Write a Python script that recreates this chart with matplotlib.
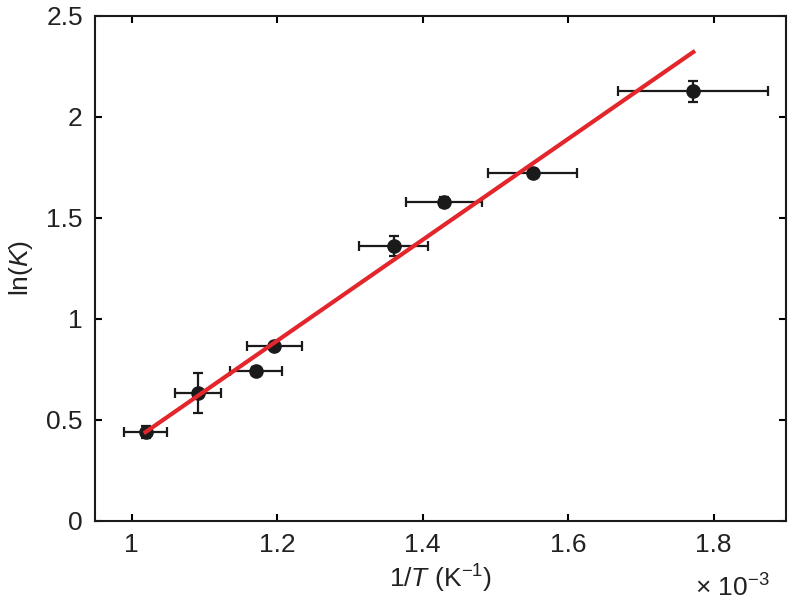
import numpy as np
import matplotlib.pyplot as plt

plt.rcParams['font.family'] = ['Liberation Sans', 'DejaVu Sans']
plt.rcParams['mathtext.fontset'] = 'custom'
plt.rcParams['mathtext.rm'] = 'Liberation Sans'
plt.rcParams['mathtext.it'] = 'Liberation Sans:italic'

# 1/T in units of 1e-3 K^-1
inv_t = [1.019, 1.091, 1.171, 1.196, 1.360, 1.429, 1.551, 1.772]
inv_t_err = [0.030, 0.032, 0.036, 0.038, 0.047, 0.052, 0.061, 0.103]
ln_k = [0.440, 0.632, 0.744, 0.866, 1.361, 1.578, 1.723, 2.127]
ln_k_err = [0.030, 0.100, 0.020, 0.015, 0.048, 0.025, 0.020, 0.052]

# linear fit: ln(K) = slope * (1/T) + intercept
fit_slope = 2.498
fit_intercept = -2.106

x_ticks = [1.0, 1.2, 1.4, 1.6, 1.8]
y_ticks = [0, 0.5, 1, 1.5, 2, 2.5]
y_tick_labels = ["0", "0.5", "1", "1.5", "2", "2.5"]

fig = plt.figure(figsize=(7.88, 6.05), dpi=100)
ax = fig.add_axes([0.121, 0.139, 0.877, 0.835])

ax.errorbar(inv_t, ln_k, xerr=inv_t_err, yerr=ln_k_err, fmt='o', color='#1a1a1a',
            markersize=9.5, elinewidth=1.6, capsize=3.3, capthick=1.6, zorder=2)

x_fit = np.array([min(inv_t), max(inv_t)])
ax.plot(x_fit, fit_slope * x_fit + fit_intercept, color='#e3262c', linewidth=3, zorder=3)

ax.set_xlim(0.95, 1.9)
ax.set_ylim(0, 2.5)
ax.set_xticks(x_ticks)
ax.set_xticklabels([f"{v:g}" for v in x_ticks])
ax.set_yticks(y_ticks)
ax.set_yticklabels(y_tick_labels)
ax.tick_params(direction='in', top=True, right=True, length=5, width=1.5,
               labelsize=19, pad=9, labelcolor='#222222')
for s in ax.spines.values():
    s.set_linewidth(1.5)
    s.set_color('#1a1a1a')

ax.set_xlabel(r"1/$T$ (K$^{-1}$)", fontsize=19, labelpad=4, color='#222222')
ax.set_ylabel(r"ln($K$)", fontsize=19, labelpad=8, color='#222222')
ax.text(0.975, -0.105, r"$\times$ 10$^{-3}$", transform=ax.transAxes, ha='right',
        va='top', fontsize=19, color='#222222')

fig.savefig("out.png", dpi=100)
